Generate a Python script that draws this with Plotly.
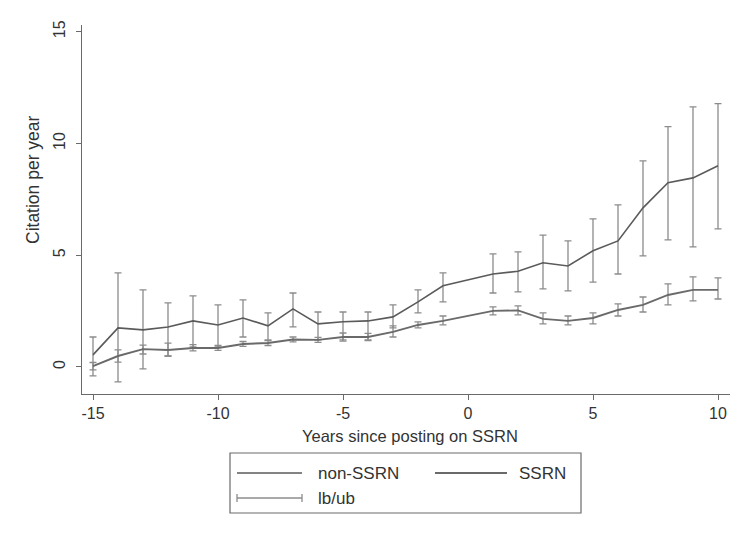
import plotly.graph_objects as go

years = [-15, -14, -13, -12, -11, -10, -9, -8, -7, -6, -5, -4, -3, -2, -1,
         1, 2, 3, 4, 5, 6, 7, 8, 9, 10]

non_ssrn = [0.54, 1.75, 1.66, 1.79, 2.06, 1.88, 2.19, 1.84, 2.60, 1.93, 2.02, 2.06, 2.24, 2.91, 3.63,
            4.16, 4.28, 4.66, 4.52, 5.20, 5.64, 7.12, 8.24, 8.46, 9.00]
non_ssrn_ub = [1.34, 4.21, 3.45, 2.87, 3.18, 2.78, 3.00, 2.42, 3.31, 2.46, 2.46, 2.46, 2.78, 3.45, 4.21,
               5.06, 5.15, 5.90, 5.64, 6.63, 7.25, 9.22, 10.75, 11.64, 11.78]
non_ssrn_lb = [-0.40, -0.67, -0.09, 0.49, 0.90, 0.90, 1.34, 1.21, 1.79, 1.21, 1.21, 1.21, 1.75, 2.42, 2.91,
               3.31, 3.36, 3.49, 3.40, 3.80, 4.16, 4.97, 5.69, 5.37, 6.18]

ssrn = [0.04, 0.49, 0.80, 0.76, 0.85, 0.85, 1.03, 1.07, 1.23, 1.21, 1.34, 1.34, 1.57, 1.88, 2.06,
        2.51, 2.53, 2.15, 2.06, 2.19, 2.55, 2.78, 3.22, 3.45, 3.45]
ssrn_ub = [0.20, 0.76, 0.98, 1.07, 1.00, 0.97, 1.14, 1.18, 1.34, 1.32, 1.52, 1.50, 1.84, 2.02, 2.28,
           2.69, 2.73, 2.42, 2.28, 2.42, 2.82, 3.13, 3.72, 4.03, 3.99]
ssrn_lb = [-0.13, 0.22, 0.58, 0.49, 0.72, 0.74, 0.92, 0.96, 1.12, 1.10, 1.16, 1.18, 1.34, 1.75, 1.88,
           2.33, 2.33, 1.93, 1.88, 1.93, 2.28, 2.46, 2.78, 2.96, 3.04]

x_ticks = [-15, -10, -5, 0, 5, 10]
x_tick_labels = ["-15", "-10", "-5", "0", "5", "10"]
y_ticks = [0, 5, 10, 15]
y_tick_labels = ["0", "5", "10", "15"]

FONT = "Liberation Sans, Arial, sans-serif"
TXT = "#333333"
ERR = "#8c8c8c"

W, H = 740, 533
ML, MR, MT, MB = 82, 10, 25, 139
PW, PH = W - ML - MR, H - MT - MB


def px(xp):
    return (xp - ML) / PW


def py(yp):
    return (H - MB - yp) / PH


fig = go.Figure()


def err_trace(mean, lb, ub):
    return go.Scatter(
        x=years, y=mean, mode="markers", marker=dict(size=1, opacity=0),
        error_y=dict(type="data", symmetric=False,
                     array=[u - m for u, m in zip(ub, mean)],
                     arrayminus=[m - l for m, l in zip(mean, lb)],
                     color=ERR, thickness=1.3, width=3.5),
        showlegend=False, hoverinfo="skip")


fig.add_trace(err_trace(non_ssrn, non_ssrn_lb, non_ssrn_ub))
fig.add_trace(err_trace(ssrn, ssrn_lb, ssrn_ub))
fig.add_trace(go.Scatter(x=years, y=non_ssrn, mode="lines", name="non-SSRN",
                         line=dict(color="#5a5a5a", width=1.6), showlegend=False))
fig.add_trace(go.Scatter(x=years, y=ssrn, mode="lines", name="SSRN",
                         line=dict(color="#6a6a6a", width=1.9), showlegend=False))

axis_common = dict(showgrid=False, zeroline=False, showline=True, linecolor="#6a6a6a",
                   linewidth=1.2, ticks="outside", ticklen=5, tickcolor="#6a6a6a",
                   tickfont=dict(family=FONT, size=16, color=TXT))

fig.update_xaxes(range=[-15.44, 10.48], tickvals=x_ticks, ticktext=x_tick_labels, **axis_common)
fig.update_yaxes(range=[-1.21, 15.3], tickvals=y_ticks, ticktext=y_tick_labels, tickangle=-90,
                 ticklabelstandoff=5, **axis_common)

# legend drawn as shapes + text
shapes = []
box = dict(type="rect", xref="paper", yref="paper", x0=px(230), x1=px(581), y0=py(513), y1=py(453),
           line=dict(color="#6a6a6a", width=1.2), fillcolor="white", layer="below")
shapes.append(box)
shapes.append(dict(type="line", xref="paper", yref="paper", x0=px(237), x1=px(302), y0=py(473), y1=py(473),
                   line=dict(color="#5a5a5a", width=1.6)))
shapes.append(dict(type="line", xref="paper", yref="paper", x0=px(435), x1=px(507), y0=py(473), y1=py(473),
                   line=dict(color="#6a6a6a", width=1.9)))
shapes.append(dict(type="line", xref="paper", yref="paper", x0=px(237), x1=px(302), y0=py(498), y1=py(498),
                   line=dict(color=ERR, width=1.3)))
for xc in (237, 302):
    shapes.append(dict(type="line", xref="paper", yref="paper", x0=px(xc), x1=px(xc), y0=py(494), y1=py(502),
                       line=dict(color=ERR, width=1.3)))

annotations = [
    dict(text="non-SSRN", x=px(316), y=py(473), xanchor="left", yanchor="middle", size=17),
    dict(text="SSRN", x=px(517), y=py(473), xanchor="left", yanchor="middle", size=17),
    dict(text="lb/ub", x=px(316), y=py(498), xanchor="left", yanchor="middle", size=17),
    dict(text="Years since posting on SSRN", x=px(410), y=py(436), xanchor="center", yanchor="middle",
         size=16.5),
    dict(text="Citation per year", x=px(33), y=py(180), xanchor="center", yanchor="middle", textangle=-90,
         size=17.5),
]
for a in annotations:
    s = a.pop("size")
    a.update(xref="paper", yref="paper", showarrow=False, font=dict(family=FONT, size=s, color=TXT))

fig.update_layout(
    width=W, height=H, margin=dict(l=ML, r=MR, t=MT, b=MB),
    paper_bgcolor="white", plot_bgcolor="white",
    shapes=shapes, annotations=annotations, showlegend=False,
)

fig.write_html("out.html")
